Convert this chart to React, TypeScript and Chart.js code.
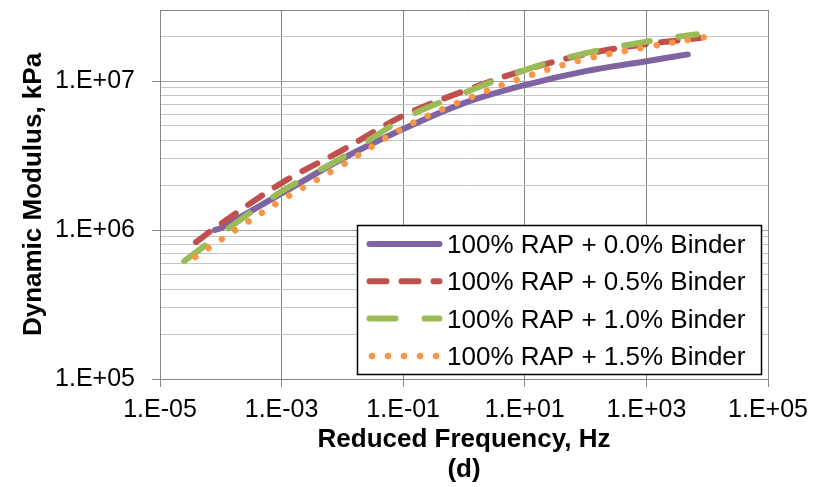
import React, { useEffect, useRef } from "react";
import { Chart, registerables } from "chart.js";

Chart.register(...registerables);

// Reduced frequency (Hz) and dynamic modulus (kPa) per mix
const FREQ_00 = [8e-5, 1e-4, 1e-3, 1e-2, 1e-1, 1, 10, 100, 1000, 4800];
const MOD_00 = [1.0e6, 1.03e6, 1.76e6, 3.01e6, 4.76e6, 7.11e6, 9.4e6, 1.167e7, 1.36e7, 1.51e7];

const FREQ_05 = [3.9e-5, 1e-4, 1e-3, 1e-2, 1e-1, 1, 10, 100, 1000, 7600];
const MOD_05 = [8.3e5, 1.1e6, 2.07e6, 3.44e6, 5.86e6, 8.57e6, 1.186e7, 1.517e7, 1.77e7, 1.945e7];

const FREQ_10 = [2.5e-5, 1e-4, 1e-3, 1e-2, 1e-1, 1, 10, 100, 1000, 6800];
const MOD_10 = [6.19e5, 9.4e5, 1.82e6, 3.07e6, 5.56e6, 8.32e6, 1.186e7, 1.54e7, 1.84e7, 2.065e7];

const FREQ_15 = [3.8e-5, 1e-4, 1e-3, 1e-2, 1e-1, 1, 10, 100, 1000, 9100];
const MOD_15 = [6.59e5, 8.6e5, 1.585e6, 2.73e6, 4.84e6, 7.45e6, 1.064e7, 1.406e7, 1.69e7, 1.97e7];

const SERIES_LABELS = [
  "100% RAP + 0.0% Binder",
  "100% RAP + 0.5% Binder",
  "100% RAP + 1.0% Binder",
  "100% RAP + 1.5% Binder",
];

const X_TICKS = [1e-5, 1e-3, 1e-1, 1e1, 1e3, 1e5];
const Y_TICKS = [
  1e5, 2e5, 3e5, 4e5, 5e5, 6e5, 7e5, 8e5, 9e5,
  1e6, 2e6, 3e6, 4e6, 5e6, 6e6, 7e6, 8e6, 9e6,
  1e7, 2e7, 3e7,
];

const X_TITLE = ["Reduced Frequency, Hz", "(d)"];
const Y_TITLE = "Dynamic Modulus, kPa";

const FONT = "'Liberation Sans', Arial, sans-serif";

const toPts = (xs: number[], ys: number[]) => xs.map((x, i) => ({ x, y: ys[i] }));

const isDecade = (v: number) => {
  const e = Math.log10(v);
  return Math.abs(e - Math.round(e)) < 1e-9;
};

const fmtExp = (v: number) => {
  const e = Math.round(Math.log10(v));
  return `1.E${e < 0 ? "-" : "+"}${String(Math.abs(e)).padStart(2, "0")}`;
};

const legendPlugin = {
  id: "boxLegend",
  afterDatasetsDraw(chart: any) {
    const { ctx, chartArea } = chart;
    const w = 405;
    const h = 150;
    const right = chartArea.right - 6;
    const bottom = chartArea.bottom - 4;
    const left = right - w;
    const top = bottom - h;
    ctx.save();
    ctx.fillStyle = "#ffffff";
    ctx.fillRect(left, top, w, h);
    ctx.strokeStyle = "#000000";
    ctx.lineWidth = 1.5;
    ctx.strokeRect(left + 0.5, top + 0.5, w - 1, h - 1);
    chart.data.datasets.forEach((ds: any, i: number) => {
      const y = top + 19 + i * 37.3;
      ctx.save();
      ctx.strokeStyle = ds.borderColor;
      ctx.lineWidth = ds.borderWidth;
      ctx.lineCap = "round";
      ctx.setLineDash(ds.borderDash || []);
      ctx.beginPath();
      const isDot = ds.borderDash && ds.borderDash[0] < 1;
      ctx.moveTo(left + (isDot ? 15 : 12.5), y);
      ctx.lineTo(left + 82.5, y);
      ctx.stroke();
      ctx.restore();
      ctx.fillStyle = "#000000";
      ctx.font = `26px ${FONT}`;
      ctx.textAlign = "left";
      ctx.textBaseline = "alphabetic";
      ctx.fillText(ds.label, left + 90, y + 9);
    });
    ctx.restore();
  },
};

export default function App() {
  const ref = useRef<HTMLCanvasElement | null>(null);

  useEffect(() => {
    if (!ref.current) return;
    const chart = new Chart(ref.current, {
      type: "line",
      data: {
        datasets: [
          {
            label: SERIES_LABELS[0],
            data: toPts(FREQ_00, MOD_00),
            borderColor: "#8064A2",
            borderWidth: 6,
            borderCapStyle: "round",
            order: 4,
          },
          {
            label: SERIES_LABELS[1],
            data: toPts(FREQ_05, MOD_05),
            borderColor: "#C0504D",
            borderWidth: 6,
            borderDash: [17, 15],
            borderCapStyle: "round",
            order: 3,
          },
          {
            label: SERIES_LABELS[2],
            data: toPts(FREQ_10, MOD_10),
            borderColor: "#9BBB59",
            borderWidth: 6,
            borderDash: [26, 29],
            borderCapStyle: "round",
            order: 2,
          },
          {
            label: SERIES_LABELS[3],
            data: toPts(FREQ_15, MOD_15),
            borderColor: "#F79646",
            borderWidth: 6.5,
            borderDash: [0.01, 16],
            borderCapStyle: "round",
            order: 1,
          },
        ] as any,
      },
      options: {
        animation: false,
        responsive: false,
        devicePixelRatio: 1,
        parsing: false as any,
        layout: { padding: { left: 0, top: 10, right: 58, bottom: 0 } },
        elements: {
          point: { radius: 0, hoverRadius: 0 },
          line: { tension: 0.35, fill: false, borderJoinStyle: "round" },
        },
        plugins: {
          legend: { display: false },
          tooltip: { enabled: false },
        },
        scales: {
          x: {
            type: "logarithmic",
            min: 1e-5,
            max: 1e5,
            afterBuildTicks: (s: any) => {
              s.ticks = X_TICKS.map((v) => ({ value: v, major: true }));
            },
            afterFit: (s: any) => {
              s.height = 108;
              s.paddingLeft = 0;
              s.paddingRight = 0;
            },
            ticks: {
              autoSkip: false,
              maxRotation: 0,
              minRotation: 0,
              padding: 8,
              color: "#000000",
              font: { family: FONT, size: 25 },
              callback: (v: any) => fmtExp(Number(v)),
            },
            grid: {
              color: "#868686",
              lineWidth: 1,
              tickLength: 8,
              tickColor: "#868686",
            },
            border: { color: "#868686", width: 1 },
            title: {
              display: true,
              text: X_TITLE,
              color: "#000000",
              font: { family: FONT, size: 26, weight: "bold", lineHeight: 30 / 26 },
              padding: { top: 0, bottom: 2 },
            },
          },
          y: {
            type: "logarithmic",
            min: 1e5,
            max: 3e7,
            afterBuildTicks: (s: any) => {
              s.ticks = Y_TICKS.map((v) => ({ value: v, major: isDecade(v) }));
            },
            afterFit: (s: any) => {
              s.width = 160;
              s.paddingTop = 0;
              s.paddingBottom = 0;
            },
            ticks: {
              autoSkip: false,
              padding: 17,
              color: "#000000",
              font: { family: FONT, size: 25 },
              callback: (v: any) => (isDecade(Number(v)) ? fmtExp(Number(v)) : ""),
            },
            grid: {
              color: (c: any) => {
                const v = c.tick ? c.tick.value : 0;
                if (Math.abs(v - 3e7) < 1) return "#868686";
                return isDecade(v) ? "#a3a3a3" : "#c6c6c6";
              },
              lineWidth: 1,
              tickLength: 8,
              tickColor: (c: any) => {
                const v = c.tick ? c.tick.value : 0;
                return isDecade(v) ? "#868686" : "rgba(0,0,0,0)";
              },
            },
            border: { color: "#868686", width: 1 },
            title: {
              display: true,
              text: Y_TITLE,
              color: "#000000",
              font: { family: FONT, size: 26, weight: "bold", lineHeight: 30 / 26 },
              padding: { top: 19, bottom: 0 },
            },
          },
        },
      } as any,
      plugins: [legendPlugin],
    });
    return () => chart.destroy();
  }, []);

  return (
    <canvas
      ref={ref}
      width={826}
      height={487}
      style={{ position: "fixed", left: 0, top: 0, width: 826, height: 487 }}
    />
  );
}
